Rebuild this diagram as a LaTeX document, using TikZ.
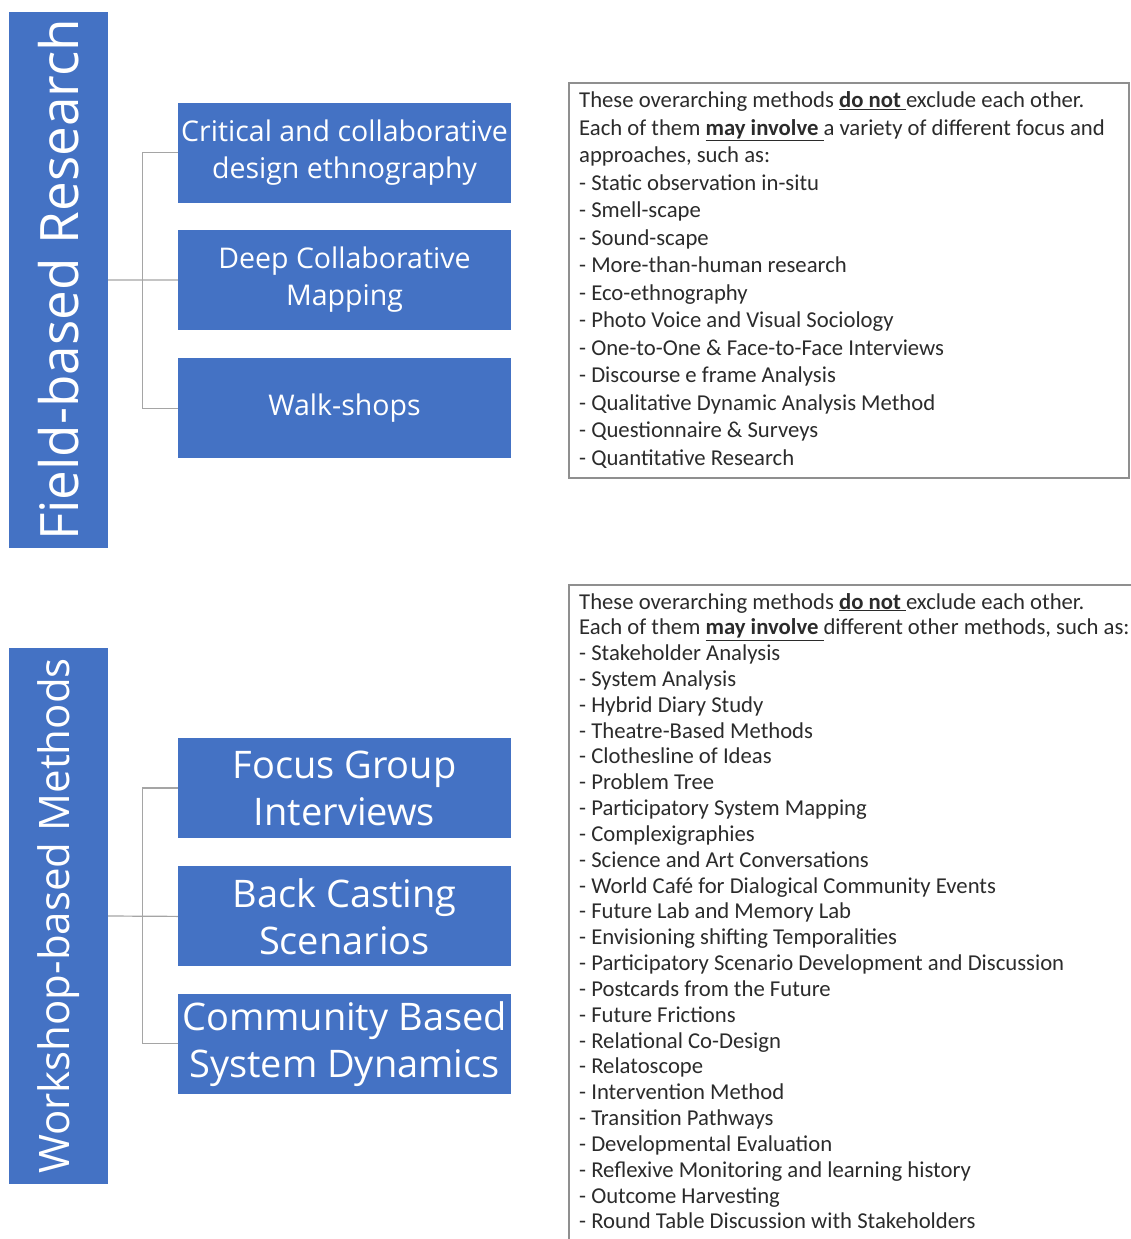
\documentclass[tikz,border=0pt]{standalone}
\usepackage{fontspec}
\setmainfont{Carlito}
\newfontfamily\boxfont{Open Sans}
\usetikzlibrary{positioning}

\definecolor{officeblue}{HTML}{4472C4}
\definecolor{linkgray}{HTML}{A5A5A5}
\definecolor{framegray}{HTML}{8F8F8F}
\definecolor{listgray}{HTML}{2B2B2B}

\tikzset{
  groupbox/.style={fill=officeblue, text=white, rotate=90, inner sep=0pt,
    minimum width=536pt, minimum height=99pt},
  methodbox/.style={fill=officeblue, text=white, inner sep=0pt, align=center,
    minimum width=333pt, minimum height=100pt},
  link/.style={draw=linkgray, line width=1.2pt},
  frame/.style={draw=framegray, line width=1.3pt},
  listline/.style={anchor=base west, inner sep=0pt, text=listgray}
}

\begin{document}
\begin{tikzpicture}[x=1pt,y=-1pt]

    \useasboundingbox (0,0) rectangle (1130,1239);

    % Constantes de mise en page
    \pgfmathsetmacro{\textx}{579}
    \pgfmathsetmacro{\fstart}{107.5}
    \pgfmathsetmacro{\fstep}{27.5}
    \pgfmathsetmacro{\wstart}{609}
    \pgfmathsetmacro{\wstep}{25.83}

    % ---- Field-based Research ----
    \node[groupbox, font=\boxfont\fontsize{53}{58}\selectfont] (fbr) at (58.5,280) {Field-based Research};

    \node[methodbox, font=\boxfont\fontsize{28.5}{37}\selectfont] (fb1) at (344.5,152.5)
      {Critical and collaborative\\design ethnography};
    \node[methodbox, font=\boxfont\fontsize{28.5}{37}\selectfont, below=27pt of fb1] (fb2)
      {Deep Collaborative\\Mapping};
    \node[methodbox, font=\boxfont\fontsize{28.5}{37}\selectfont, below=28pt of fb2] (fb3)
      {Walk-shops};

    \draw[link] (fbr.south) -- (fb2.west);
    \draw[link] (fb1.west) -- ++(-35,0) |- (fb3.west);

    % Cadre de notes (haut)
    \draw[frame] (569,83) rectangle (1129,478);
    \node[listline, font=\fontsize{22.7}{27.5}\selectfont] (fhead1) at (\textx,\fstart)
      {These overarching methods \underline{\textbf{do not} }exclude each other.};
    \node[listline, font=\fontsize{22.7}{27.5}\selectfont] (fhead2) at (\textx,\fstart+\fstep)
      {Each of them \underline{\textbf{may involve} }a variety of different focus and};
    \node[listline, font=\fontsize{22.7}{27.5}\selectfont] (fhead3) at (\textx,\fstart+2*\fstep)
      {approaches, such as:};
    \foreach \lbl [count=\i from 3] in {
        Static observation in-situ,
        Smell-scape,
        Sound-scape,
        More-than-human research,
        Eco-ethnography,
        Photo Voice and Visual Sociology,
        One-to-One \& Face-to-Face Interviews,
        Discourse e frame Analysis,
        Qualitative Dynamic Analysis Method,
        Questionnaire \& Surveys,
        Quantitative Research
    }{
      \node[listline, font=\fontsize{22.7}{27.5}\selectfont] (fitem\i) at (\textx,\fstart+\i*\fstep) {- \lbl};
    }

    % ---- Workshop-based Methods ----
    \node[groupbox, font=\boxfont\fontsize{42}{48}\selectfont] (wbm) at (58.5,916) {Workshop-based Methods};

    \node[methodbox, font=\boxfont\fontsize{38}{47}\selectfont] (wb1) at (344.5,788)
      {Focus Group\\Interviews};
    \node[methodbox, font=\boxfont\fontsize{38}{47}\selectfont, below=28pt of wb1] (wb2)
      {Back Casting\\Scenarios};
    \node[methodbox, font=\boxfont\fontsize{38}{47}\selectfont, below=27pt of wb2] (wb3)
      {Community Based\\System Dynamics};

    \draw[link] (wbm.south) -- (wb2.west);
    \draw[link] (wb1.west) -- ++(-35,0) |- (wb3.west);

    % Cadre de notes (bas), coupé par le bord de l'image
    \draw[frame] (569,1250) |- (1140,585);
    \node[listline, font=\fontsize{22.7}{25.8}\selectfont] (whead1) at (\textx,\wstart)
      {These overarching methods \underline{\textbf{do not} }exclude each other.};
    \node[listline, font=\fontsize{22.7}{25.8}\selectfont] (whead2) at (\textx,\wstart+\wstep)
      {Each of them \underline{\textbf{may involve} }different other methods, such as:};
    \foreach \lbl [count=\i from 2] in {
        Stakeholder Analysis,
        System Analysis,
        Hybrid Diary Study,
        Theatre-Based Methods,
        Clothesline of Ideas,
        Problem Tree,
        Participatory System Mapping,
        Complexigraphies,
        Science and Art Conversations,
        World Café for Dialogical Community Events,
        Future Lab and Memory Lab,
        Envisioning shifting Temporalities,
        Participatory Scenario Development  and Discussion,
        Postcards from the Future,
        Future Frictions,
        Relational Co-Design,
        Relatoscope,
        Intervention Method,
        Transition Pathways,
        Developmental Evaluation,
        Reflexive Monitoring  and learning history,
        Outcome Harvesting,
        Round Table Discussion with Stakeholders
    }{
      \node[listline, font=\fontsize{22.7}{25.8}\selectfont] (witem\i) at (\textx,\wstart+\i*\wstep) {- \lbl};
    }

\end{tikzpicture}
\end{document}
